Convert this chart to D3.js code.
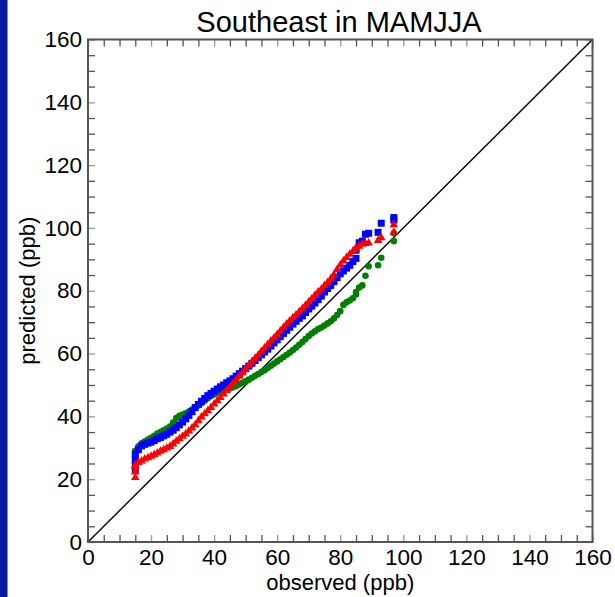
<!DOCTYPE html>
<html><head><meta charset="utf-8">
<script src="https://cdn.jsdelivr.net/npm/d3@7/dist/d3.min.js"></script>
<style>body{margin:0;background:#fff}svg{display:block}</style>
</head><body>
<script>
// ---- data ----
const observed = [15,15,15,15,
  16,17,18,19,20,21,22,23,24,25,26,27,28,29,30,31,32,33,34,35,36,37,38,39,40,
  41,42,43,44,45,46,47,48,49,50,51,52,53,54,55,56,57,58,59,60,61,62,63,64,65,
  66,67,68,69,70,71,72,73,74,75,76,77,78,79,80,81,82,83,84,
  85,85,86,87,88,89,92,93,97,97];

const predGreen = [24,26,27.7,29,
  30.5,31.4,32,32.6,33.2,33.8,34.5,35,35.6,36.1,36.8,38,39.5,40.2,40.6,41,41.5,42.2,42.8,43.5,44.2,45,45.8,46.4,47,
  47.5,48,48.3,48.6,48.9,49.3,49.7,50.2,50.7,51.2,51.7,52.3,52.9,53.5,54.1,54.7,55.4,56.1,56.8,57.5,58.2,58.9,59.6,60.3,61.1,
  61.9,62.8,63.7,64.6,65.6,66.4,67.1,67.8,68.3,68.9,69.6,70.3,71.2,72.3,73.5,75.5,76.3,76.9,77.6,
  78.8,79.6,81,81.7,84.8,87.8,88.1,90.5,95.8,98.3];

const predBlue = [22.9,24.5,26.1,28,
  29.4,30.6,31.1,31.5,31.8,32.3,32.9,33.3,33.8,34.3,35,35.6,36.4,37.3,38.2,39.2,40.3,41.5,42.8,43.8,44.8,45.7,46.6,47.3,48,
  48.7,49.4,50,50.7,51.3,52,52.8,53.6,54.4,55.2,56,56.9,57.8,58.7,59.6,60.5,61.4,62.4,63.4,64.4,65.4,66.4,67.4,68.4,69.4,
  70.3,71.2,72,73.1,74.2,75.1,76.1,77.2,78.3,79.6,80.7,81.7,82.9,84.2,85.4,86.3,87.2,88.1,89.3,
  90.3,92.9,95.3,95.8,98,98.3,98.6,101.5,102.5,103.3];

const predRed = [20.5,22.3,24,24.5,
  25.3,25.8,26.4,26.8,27.3,27.8,28.3,28.9,29.4,29.9,30.4,31.2,32.1,32.9,33.7,34.4,35.3,36.3,37.3,38.6,39.8,40.8,41.8,42.8,43.9,
  45,46,47.1,48.2,49.4,50.5,51.6,52.8,53.9,55,56.2,57.3,58.4,59.5,60.7,61.8,62.9,64,65,66.1,67.2,68.3,69.4,70.4,71.4,
  72.3,73.3,74.3,75.4,76.4,77.5,78.6,79.6,80.5,81.6,82.6,83.8,85.1,86.8,88.2,89.5,90.6,91.6,92.5,
  93.1,93.6,94.2,94.8,95,95.2,96,96.9,98.6,101];

const tickValues = [0,20,40,60,80,100,120,140,160];
const minorStep = 5;
const axisMax = 160;
const titleText = "Southeast in MAMJJA";
const xLabel = "observed (ppb)";
const yLabel = "predicted (ppb)";

// ---- drawing ----
const W = 615, H = 597;
const m = {left: 88, right: 22.5, top: 39.5, bottom: 55};
const svg = d3.select("body").append("svg").attr("width", W).attr("height", H);
const font = "'Liberation Sans', Arial, sans-serif";

svg.append("rect").attr("x",0).attr("y",0).attr("width",7.5).attr("height",H).attr("fill","#061c98");

const x = d3.scaleLinear().domain([0, axisMax]).range([m.left, W - m.right]);
const y = d3.scaleLinear().domain([0, axisMax]).range([H - m.bottom, m.top]);

const allTicks = d3.range(0, axisMax + 0.001, minorStep);
const fmt = d => tickValues.includes(d) ? String(d) : "";

function styleAxis(g){
  g.select(".domain").remove();
  g.selectAll(".tick line").attr("stroke", d => tickValues.includes(d) ? "#9a9a9a" : "#555").attr("stroke-width", 1.3);
  g.selectAll(".tick text").attr("fill","#000").style("font-family", font).style("font-size","22.5px");
}

svg.append("g").attr("transform",`translate(0,${y(0)})`)
  .call(d3.axisBottom(x).tickValues(allTicks).tickFormat(fmt).tickSizeInner(-7).tickSizeOuter(0).tickPadding(7))
  .call(styleAxis);
svg.append("g").attr("transform",`translate(0,${y(axisMax)})`)
  .call(d3.axisTop(x).tickValues(allTicks).tickFormat(() => "").tickSizeInner(-7).tickSizeOuter(0))
  .call(styleAxis);
svg.append("g").attr("transform",`translate(${x(0)},0)`)
  .call(d3.axisLeft(y).tickValues(allTicks).tickFormat(fmt).tickSizeInner(-7).tickSizeOuter(0).tickPadding(6))
  .call(styleAxis);
svg.append("g").attr("transform",`translate(${x(axisMax)},0)`)
  .call(d3.axisRight(y).tickValues(allTicks).tickFormat(() => "").tickSizeInner(-7).tickSizeOuter(0))
  .call(styleAxis);

// 1:1 line
svg.append("line")
  .attr("x1", x(0)).attr("y1", y(0)).attr("x2", x(axisMax)).attr("y2", y(axisMax))
  .attr("stroke","#000").attr("stroke-width",1.4);

// series
const mk = p => observed.map((o,i) => ({o, p: p[i]}));
const plot = svg.append("g");
plot.selectAll("circle.g").data(mk(predGreen)).join("circle")
  .attr("cx", d => x(d.o)).attr("cy", d => y(d.p)).attr("r", 3.3).attr("fill","#008000");
const sq = d3.symbol().type(d3.symbolSquare).size(49);
plot.selectAll("path.b").data(mk(predBlue)).join("path")
  .attr("d", sq).attr("transform", d => `translate(${x(d.o)},${y(d.p)})`).attr("fill","#0000ff");
const tri = d3.symbol().type(d3.symbolTriangle).size(32);
plot.selectAll("path.r").data(mk(predRed)).join("path")
  .attr("d", tri).attr("transform", d => `translate(${x(d.o)},${y(d.p)})`).attr("fill","#ff0000");

// frame
svg.append("rect").attr("x", x(0)).attr("y", y(axisMax)).attr("width", x(axisMax)-x(0)).attr("height", y(0)-y(axisMax))
  .attr("fill","none").attr("stroke","#555").attr("stroke-width",2);

// texts
svg.append("text").attr("x", 339).attr("y", 32).attr("text-anchor","middle")
  .style("font-family", font).style("font-size","29px").text(titleText);
svg.append("text").attr("x", (x(0)+x(axisMax))/2).attr("y", 590).attr("text-anchor","middle")
  .style("font-family", font).style("font-size","22px").text(xLabel);
svg.append("text").attr("transform", `translate(35,${(y(0)+y(axisMax))/2}) rotate(-90)`).attr("text-anchor","middle")
  .style("font-family", font).style("font-size","22px").text(yLabel);
</script>
</body></html>
